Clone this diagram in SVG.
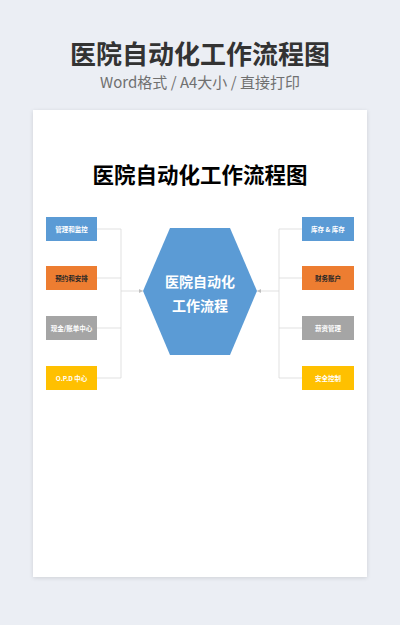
<svg xmlns="http://www.w3.org/2000/svg" width="400" height="625" viewBox="0 0 400 625">
<defs>
<filter id="sh" x="-5%" y="-5%" width="110%" height="110%"><feGaussianBlur stdDeviation="2"/></filter>
<marker id="ar" markerWidth="4" markerHeight="4" refX="4" refY="2" orient="auto" markerUnits="userSpaceOnUse"><path d="M0,0 L4,2 L0,4 Z" fill="#BFBFBF"/></marker>
</defs>
<style>
.h{font-family:"Noto Sans CJK SC","Noto Sans",sans-serif;text-anchor:middle}
.b{font-family:"Noto Sans CJK SC","Liberation Sans",sans-serif;font-size:6.5px;font-weight:bold;text-anchor:middle;dominant-baseline:central}
.w{fill:#FFFFFF}.d{fill:#262626}
.c{fill:none;stroke:#D9D9D9;stroke-width:0.8}
</style>
<rect width="400" height="625" fill="#EBEEF4"/>
<text class="h" x="200" y="64" font-size="26" font-weight="bold" fill="#333333">医院自动化工作流程图</text>
<text class="h" x="200" y="88" font-size="15" fill="#707070">Word格式 / A4大小 / 直接打印</text>
<rect x="33" y="111" width="334" height="467" fill="#000" opacity="0.12" filter="url(#sh)"/>
<rect x="33" y="110" width="334" height="467" fill="#FFFFFF"/>
<text class="h" x="200" y="183" font-size="21.5" font-weight="bold" fill="#000000">医院自动化工作流程图</text>
<g id="connectors">
<path class="c" d="M97,229 H121 M97,278 H121 M97,328 H121 M97,378 H121 M121,229 V378"/>
<path class="c" d="M121,291 H143" marker-end="url(#ar)"/>
<path class="c" d="M302,229 H279 M302,278 H279 M302,328 H279 M302,378 H279 M279,229 V378"/>
<path class="c" d="M279,291 H257" marker-end="url(#ar)"/>
</g>
<g id="hub">
<polygon points="170,228 230,228 257,291 230,355 170,355 143,291" fill="#5B9BD5"/>
<text class="h" x="200" y="287" font-size="14" font-weight="bold" fill="#FFFFFF">医院自动化</text>
<text class="h" x="200" y="311" font-size="14" font-weight="bold" fill="#FFFFFF">工作流程</text>
</g>
<g id="n1"><rect x="46" y="217" width="51" height="24" fill="#5B9BD5"/><text class="b w" x="71.5" y="229">管理和监控</text></g>
<g id="n2"><rect x="46" y="266" width="51" height="24" fill="#ED7D31"/><text class="b d" x="71.5" y="278">预约和安排</text></g>
<g id="n3"><rect x="46" y="316" width="51" height="24" fill="#A5A5A5"/><text class="b w" x="71.5" y="328">现金/账单中心</text></g>
<g id="n4"><rect x="46" y="366" width="51" height="24" fill="#FFC000"/><text class="b w" x="71.5" y="378">O.P.D  中心</text></g>
<g id="n5"><rect x="302" y="217" width="52" height="24" fill="#5B9BD5"/><text class="b w" x="328" y="229">库存 &amp; 库存</text></g>
<g id="n6"><rect x="302" y="266" width="52" height="24" fill="#ED7D31"/><text class="b d" x="328" y="278">财务账户</text></g>
<g id="n7"><rect x="302" y="316" width="52" height="24" fill="#A5A5A5"/><text class="b w" x="328" y="328">薪资管理</text></g>
<g id="n8"><rect x="302" y="366" width="52" height="24" fill="#FFC000"/><text class="b w" x="328" y="378">安全控制</text></g>
</svg>
